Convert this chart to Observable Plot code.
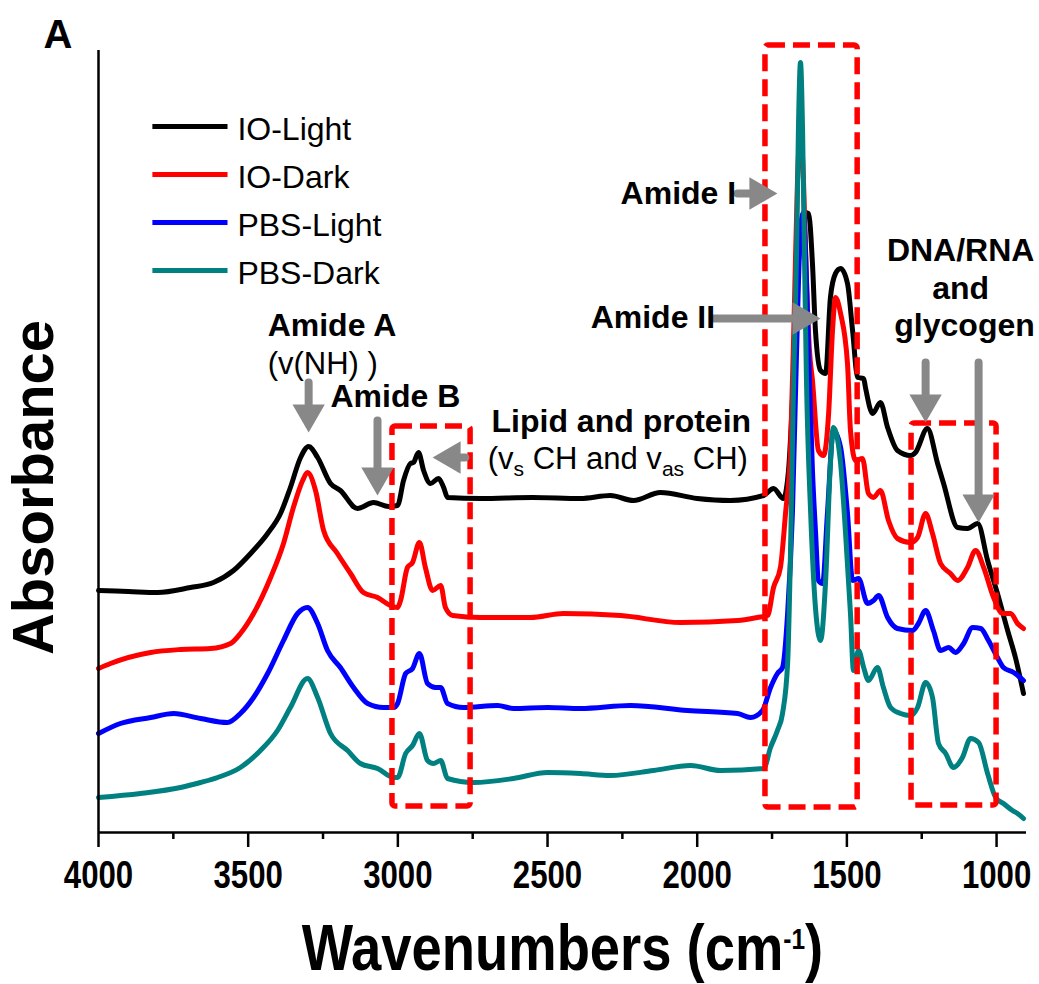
<!DOCTYPE html>
<html><head><meta charset="utf-8">
<script src="https://cdn.jsdelivr.net/npm/d3@7"></script>
<script src="https://cdn.jsdelivr.net/npm/@observablehq/plot@0.6"></script>
<style>
body{margin:0;background:#fff}
#chart{position:relative;width:1039px;height:984px}
</style>
</head><body><div id="chart"></div>
<script>
// ---------- data (wavenumber cm-1, absorbance a.u., offset spectra) ----------
const seriesNames = ["IO-Light", "IO-Dark", "PBS-Light", "PBS-Dark"];
const seriesColors = ["#000000", "#ff0000", "#0000ff", "#008080"];

const ioLight = [[4000,1.19],[3900,1.185],[3803,1.18],[3693,1.205],[3616,1.23],[3549,1.29],[3492,1.375],[3435,1.475],[3392,1.575],[3359,1.705],[3325,1.855],[3298,1.91],[3268,1.855],[3225,1.725],[3192,1.69],[3135,1.60],[3081,1.63],[3031,1.61],[3001,1.615],[2981,1.74],[2958,1.825],[2948,1.83],[2931,1.88],[2914,1.79],[2891,1.725],[2864,1.75],[2847,1.705],[2834,1.655],[2724,1.65],[2550,1.655],[2390,1.65],[2290,1.665],[2213,1.64],[2123,1.68],[2000,1.65],[1889,1.64],[1778,1.665],[1745,1.70],[1712,1.65],[1695,1.79],[1682,2.14],[1668,2.64],[1655,2.99],[1642,3.08],[1628,3.075],[1615,2.825],[1605,2.49],[1588,2.29],[1571,2.275],[1555,2.655],[1538,2.775],[1521,2.80],[1498,2.725],[1481,2.49],[1464,2.255],[1444,2.25],[1438,2.205],[1414,2.075],[1388,2.13],[1364,2.005],[1331,1.89],[1287,1.865],[1271,1.88],[1231,2.00],[1197,1.825],[1177,1.725],[1130,1.505],[1097,1.50],[1063,1.525],[1030,1.34],[997,1.175],[963,0.99],[937,0.855],[910,0.675]];

const ioDark = [[4000,0.80],[3960,0.825],[3826,0.88],[3726,0.895],[3626,0.90],[3559,0.925],[3526,0.975],[3482,1.075],[3425,1.255],[3382,1.425],[3349,1.605],[3318,1.74],[3302,1.78],[3275,1.69],[3248,1.49],[3202,1.375],[3158,1.275],[3115,1.18],[3068,1.155],[3025,1.115],[3001,1.105],[2991,1.14],[2968,1.305],[2951,1.33],[2928,1.43],[2908,1.305],[2884,1.19],[2857,1.215],[2841,1.105],[2817,1.065],[2724,1.055],[2557,1.055],[2447,1.075],[2256,1.065],[2056,1.03],[1865,1.04],[1799,1.055],[1765,1.065],[1745,1.205],[1722,1.305],[1705,1.575],[1688,1.905],[1675,2.64],[1665,3.24],[1655,3.49],[1645,3.24],[1635,2.74],[1625,2.39],[1615,2.24],[1595,1.89],[1578,1.865],[1561,2.075],[1548,2.49],[1538,2.655],[1521,2.575],[1498,2.325],[1488,1.99],[1471,1.84],[1448,1.85],[1428,1.675],[1411,1.655],[1388,1.69],[1361,1.54],[1331,1.45],[1287,1.43],[1264,1.455],[1237,1.575],[1214,1.475],[1187,1.325],[1154,1.275],[1130,1.24],[1097,1.305],[1070,1.39],[1043,1.305],[1010,1.155],[980,1.075],[953,1.075],[930,1.025],[910,1.00]];

const pbsLight = [[4000,0.475],[3927,0.525],[3826,0.555],[3749,0.575],[3659,0.55],[3569,0.53],[3526,0.575],[3482,0.655],[3435,0.775],[3382,0.94],[3335,1.075],[3302,1.105],[3268,1.025],[3235,0.89],[3192,0.805],[3148,0.705],[3101,0.625],[3048,0.605],[3014,0.605],[3001,0.625],[2974,0.775],[2951,0.80],[2928,0.875],[2901,0.725],[2874,0.705],[2857,0.705],[2834,0.625],[2781,0.605],[2667,0.615],[2614,0.60],[2500,0.605],[2390,0.60],[2223,0.615],[2032,0.59],[1865,0.575],[1822,0.555],[1782,0.59],[1755,0.705],[1732,0.775],[1715,0.805],[1698,1.075],[1682,1.575],[1668,2.39],[1655,2.99],[1645,3.08],[1635,2.74],[1625,2.24],[1615,1.79],[1605,1.49],[1595,1.24],[1581,1.225],[1565,1.575],[1545,1.99],[1521,1.905],[1498,1.575],[1481,1.24],[1461,1.25],[1431,1.125],[1411,1.14],[1394,1.165],[1364,1.055],[1331,1.00],[1281,0.99],[1261,1.025],[1237,1.09],[1211,0.99],[1187,0.89],[1160,0.905],[1137,0.88],[1110,0.925],[1080,1.005],[1053,1.00],[1027,0.94],[997,0.855],[977,0.805],[943,0.78],[910,0.74]];

const pbsDark = [[4000,0.155],[3860,0.175],[3726,0.205],[3659,0.23],[3602,0.255],[3526,0.305],[3459,0.39],[3402,0.49],[3359,0.605],[3302,0.75],[3268,0.655],[3225,0.475],[3168,0.39],[3125,0.325],[3068,0.30],[3014,0.255],[3001,0.255],[2974,0.375],[2951,0.415],[2928,0.475],[2901,0.34],[2881,0.325],[2857,0.34],[2834,0.25],[2747,0.23],[2614,0.25],[2500,0.28],[2390,0.275],[2290,0.265],[2146,0.29],[2022,0.315],[1922,0.29],[1778,0.30],[1755,0.405],[1732,0.49],[1715,0.575],[1698,0.825],[1688,1.405],[1678,2.24],[1668,2.89],[1662,3.49],[1655,3.83],[1648,3.49],[1642,2.89],[1635,2.24],[1621,1.575],[1605,1.105],[1588,0.94],[1571,1.24],[1555,1.825],[1545,2.005],[1521,1.825],[1505,1.49],[1488,1.075],[1478,0.79],[1461,0.89],[1444,0.805],[1428,0.74],[1398,0.805],[1378,0.705],[1354,0.605],[1321,0.575],[1287,0.565],[1264,0.605],[1237,0.73],[1214,0.655],[1194,0.425],[1170,0.375],[1144,0.305],[1114,0.355],[1087,0.45],[1060,0.43],[1030,0.275],[1003,0.155],[977,0.125],[947,0.09],[930,0.075],[910,0.05]];

const xTickLabels = [4000, 3500, 3000, 2500, 2000, 1500, 1000];
const xMinorTicks = [3750, 3250, 2750, 2250, 1750, 1250];

// highlighted regions (cm-1 range, absorbance range)
const regionFrom = [3018, 1772, 1284];
const regionTo   = [2757, 1464, 1000];
const regionLow  = [0.11, 0.105, 0.115];
const regionHigh = [2.01, 3.915, 2.025];

// annotation arrows: tail -> tip
const arrowDir = ["down", "down", "left", "right", "right", "down", "down"];
const arrowX1 = [3298, 3068, 2775, 1865, 1948, 1237, 1060];
const arrowY1 = [2.23, 2.04, 1.855, 3.175, 2.55, 2.33, 2.33];
const arrowX2 = [3298, 3068, 2884, 1732, 1588, 1237, 1060];
const arrowY2 = [1.98, 1.665, 1.855, 3.175, 2.55, 2.03, 1.53];

// annotation labels
const labelText = ["Amide A", "(v(NH) )", "Amide B", "Lipid and protein", "(vs CH and vas CH)", "Amide I", "Amide II", "DNA/RNA", "and", "glycogen"];
const labelX = [3435, 3435, 3225, 2687, 2700, 2256, 2356, 1120, 1120, 1107];
const labelY = [2.465, 2.275, 2.11, 1.985, 1.80, 3.125, 2.505, 2.84, 2.65, 2.465];
const labelBold = [true, false, true, true, false, true, true, true, true, true];
const labelAnchor = ["start","start","start","start","start","start","start","middle","middle","middle"];

// legend placement (in chart coordinates)
const legendX1 = 3820, legendX2 = 3569, legendTextX = 3536;
const legendY = [3.51, 3.27, 3.03, 2.79];

// ---------- build ----------
const seriesData = [ioLight, ioDark, pbsLight, pbsDark];
const rows = seriesData.flatMap((arr, i) => arr.map(([wn, a]) => ({series: seriesNames[i], wn, a})));
const regions = regionFrom.map((x1, i) => ({x1, x2: regionTo[i], y1: regionLow[i], y2: regionHigh[i]}));
const arrows = arrowDir.map((dir, i) => ({dir, x1: arrowX1[i], y1: arrowY1[i], x2: arrowX2[i], y2: arrowY2[i]}));
const labels = labelText.map((t, i) => ({t, x: labelX[i], y: labelY[i], bold: labelBold[i], anchor: labelAnchor[i]}));
const legend = seriesNames.map((name, i) => ({name, y: legendY[i]}));

const SANS = "Liberation Sans, Arial, Helvetica, sans-serif";
const GRAY = "#888888";
const headR = 12, headOff = 18.7;

const labelMarks = ["start", "middle"].flatMap(anchor => [true, false].map(bold =>
  Plot.text(labels.filter(d => d.anchor === anchor && d.bold === bold), {
    x: "x", y: "y", text: "t", textAnchor: anchor, lineAnchor: "bottom",
    fontSize: bold ? 32 : 31, fontWeight: bold ? "bold" : "normal", fontFamily: SANS, fill: "#000"
  })));

const headMark = (dir, rotate, dx, dy) => Plot.dot(arrows.filter(d => d.dir === dir), {
  x: "x2", y: "y2", symbol: "triangle", r: headR, rotate, dx, dy, fill: GRAY, stroke: "none"
});

const plot = Plot.plot({
  width: 1039, height: 984,
  marginLeft: 98, marginRight: 13, marginTop: 50, marginBottom: 152,
  style: {background: "#fff", overflow: "visible"},
  x: {domain: [4000, 900], axis: null},
  y: {domain: [-0.02, 3.89], axis: null},
  color: {domain: seriesNames, range: seriesColors},
  marks: [
    Plot.line(rows, {x: "wn", y: "a", z: "series", stroke: "series", strokeWidth: 5, curve: "monotone-x", strokeLinejoin: "round"}),
    Plot.rect(regions, {x1: "x1", x2: "x2", y1: "y1", y2: "y2", fill: "none", stroke: "#ff0000", strokeWidth: 5.5, strokeDasharray: "17,8", rx: 3}),
    Plot.arrow(arrows, {x1: "x1", y1: "y1", x2: "x2", y2: "y2", stroke: GRAY, strokeWidth: 8, headLength: 0, insetEnd: 14}),
    headMark("down", 180, 0, -headOff),
    headMark("left", -90, headOff, 0),
    headMark("right", 90, -headOff, 0),
    ...labelMarks,
    // axes frame
    Plot.ruleX([4000], {y1: -0.02, y2: 3.89, stroke: "#000", strokeWidth: 2.5}),
    Plot.ruleY([-0.02], {x1: 4000, x2: 900, stroke: "#000", strokeWidth: 2.5}),
    Plot.axisX(xTickLabels, {tickSize: 15, tickPadding: 13, strokeWidth: 2.5, fontSize: 39, fontWeight: "bold", fontFamily: SANS, tickFormat: d => String(d), label: null, fill: "#000"}),
    Plot.axisX(xMinorTicks, {tickSize: 7, strokeWidth: 2.5, tickFormat: () => "", label: null}),
    // legend
    Plot.link(legend, {x1: () => legendX1, x2: () => legendX2, y1: "y", y2: "y", stroke: "name", strokeWidth: 5}),
    Plot.text(legend, {x: () => legendTextX, y: "y", text: "name", textAnchor: "start", dy: 3, fontSize: 32, fontFamily: SANS, fill: "#000"}),
    // titles
    Plot.text(["A"], {frameAnchor: "top-left", textAnchor: "start", lineAnchor: "bottom", dx: -55, dy: -3, fontSize: 40, fontWeight: "bold", fontFamily: SANS, fill: "#000"}),
    Plot.text(["Absorbance"], {frameAnchor: "left", textAnchor: "middle", rotate: -90, dx: -64, dy: 46, fontSize: 58, fontWeight: "bold", fontFamily: SANS, fill: "#000"}),
    Plot.text(["Wavenumbers (cm-1)"], {frameAnchor: "bottom", textAnchor: "middle", lineAnchor: "bottom", dy: 137, fontSize: 64, fontWeight: "bold", fontFamily: SANS, fill: "#000"})
  ]
});

document.getElementById("chart").appendChild(plot);

// sub/superscripts and narrow (condensed) lettering for the axis texts
const NS = "http://www.w3.org/2000/svg";
function rich(t, parts) {
  t.textContent = "";
  for (const [s, size, dy] of parts) {
    const ts = document.createElementNS(NS, "tspan");
    ts.textContent = s;
    if (size) ts.setAttribute("font-size", size);
    if (dy) ts.setAttribute("dy", dy);
    t.appendChild(ts);
  }
}
function condense(t, k) {
  const tr = t.getAttribute("transform") || "";
  t.setAttribute("transform", `${tr} scale(${k},1)`);
}
const tickSet = new Set(xTickLabels.map(String));
plot.querySelectorAll("text").forEach(t => {
  const s = t.textContent;
  if (s === "(vs CH and vas CH)") {
    rich(t, [["(v"], ["s", "0.68em", 7], [" CH and v", null, -7], ["as", "0.68em", 7], [" CH)", null, -7]]);
  } else if (s === "Wavenumbers (cm-1)") {
    rich(t, [["Wavenumbers (cm"], ["-1", "0.45em", -21], [")", null, 21]]);
    condense(t, 0.85);
  } else if (tickSet.has(s)) {
    condense(t, 0.8);
  }
});
</script>
</body></html>
